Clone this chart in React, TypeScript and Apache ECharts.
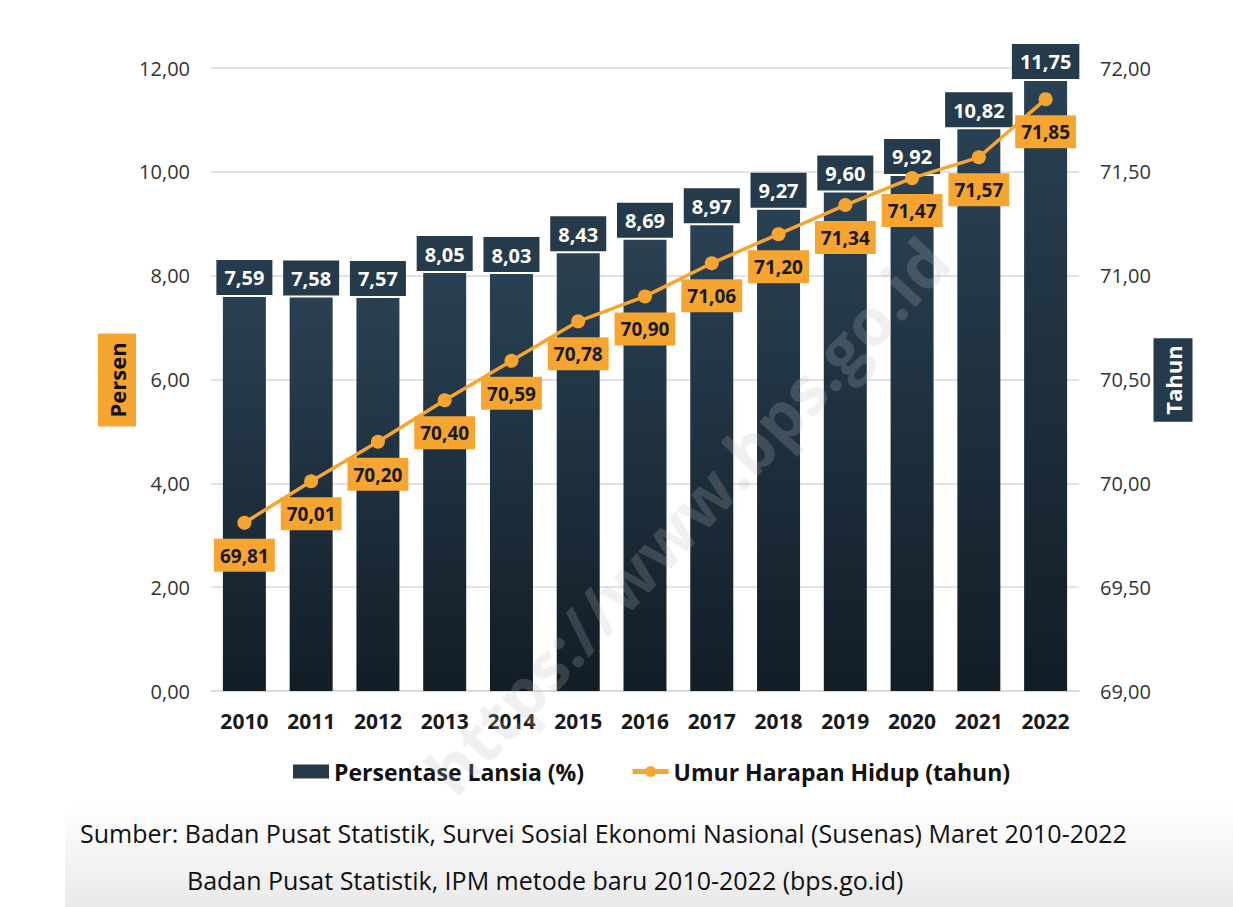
import React, { useEffect, useRef } from "react";
import * as echarts from "echarts";

const years = ["2010", "2011", "2012", "2013", "2014", "2015", "2016", "2017", "2018", "2019", "2020", "2021", "2022"];
const persentaseLansia = [7.59, 7.58, 7.57, 8.05, 8.03, 8.43, 8.69, 8.97, 9.27, 9.6, 9.92, 10.82, 11.75];
const umurHarapanHidup = [69.81, 70.01, 70.2, 70.4, 70.59, 70.78, 70.9, 71.06, 71.2, 71.34, 71.47, 71.57, 71.85];
const sourceLines = [
  "Sumber: Badan Pusat Statistik, Survei Sosial Ekonomi Nasional (Susenas) Maret 2010-2022",
  "Badan Pusat Statistik, IPM metode baru 2010-2022 (bps.go.id)",
];

const FONT = "'Open Sans', 'Noto Sans', sans-serif";
const ORANGE = "#f7a531";
const NAVY = "#253a4b";

const fmt = (v: number) => v.toFixed(2).replace(".", ",");

export default function App() {
  const ref = useRef<HTMLDivElement>(null);
  useEffect(() => {
    document.body.style.margin = "0";
    const chart = echarts.init(ref.current!, undefined, { renderer: "svg" });
    chart.setOption({
      animation: false,
      backgroundColor: "#ffffff",
      textStyle: { fontFamily: FONT },
      grid: { left: 211, top: 68, width: 868, height: 623, containLabel: false },
      legend: {
        left: 288,
        top: 755,
        itemWidth: 36,
        itemHeight: 14,
        itemGap: 46,
        textStyle: { fontFamily: FONT, fontSize: 23, fontWeight: "bold", color: "#111" },
        data: [
          { name: "Persentase Lansia (%)", icon: "rect", itemStyle: { color: NAVY } },
          { name: "Umur Harapan Hidup (tahun)", lineStyle: { width: 5, color: ORANGE }, itemStyle: { color: ORANGE } },
        ],
      },
      xAxis: {
        type: "category",
        data: years,
        axisLine: { show: true, lineStyle: { color: "#d9d9d9", width: 1.5 } },
        axisTick: { show: false },
        axisLabel: { fontFamily: FONT, fontSize: 21, fontWeight: "bold", color: "#1a1a1a", margin: 19 },
      },
      yAxis: [
        {
          type: "value",
          min: 0,
          max: 12,
          interval: 2,
          axisLine: { show: false },
          axisTick: { show: false },
          splitLine: { lineStyle: { color: "#d9d9d9", width: 1.5 } },
          axisLabel: { fontFamily: FONT, fontSize: 20, color: "#333", margin: 21, formatter: (v: number) => fmt(v) },
        },
        {
          type: "value",
          min: 69,
          max: 72,
          interval: 0.5,
          position: "right",
          axisLine: { show: false },
          axisTick: { show: false },
          splitLine: { show: false },
          axisLabel: { fontFamily: FONT, fontSize: 20, color: "#333", margin: 21, formatter: (v: number) => fmt(v) },
        },
      ],
      series: [
        {
          name: "Persentase Lansia (%)",
          type: "bar",
          data: persentaseLansia,
          barWidth: 43,
          yAxisIndex: 0,
          itemStyle: {
            color: new echarts.graphic.LinearGradient(0, 0, 0, 1, [
              { offset: 0, color: "#2a4153" },
              { offset: 1, color: "#121d26" },
            ]),
          },
          label: {
            show: true,
            position: "top",
            distance: 2,
            formatter: (p: any) => fmt(p.value),
            fontFamily: FONT,
            fontSize: 20,
            fontWeight: "bold",
            color: "#ffffff",
            backgroundColor: NAVY,
            padding: [7, 8, 6, 8],
            lineHeight: 22,
          },
        },
        {
          name: "Umur Harapan Hidup (tahun)",
          type: "line",
          data: umurHarapanHidup,
          yAxisIndex: 1,
          symbol: "circle",
          symbolSize: 14,
          lineStyle: { color: ORANGE, width: 3.5 },
          itemStyle: { color: ORANGE },
          label: {
            show: true,
            position: "bottom",
            distance: 9,
            formatter: (p: any) => fmt(p.value),
            fontFamily: FONT,
            fontSize: 19,
            fontWeight: "bold",
            color: "#1a1a1a",
            backgroundColor: ORANGE,
            padding: [6, 6, 5, 6],
            lineHeight: 22,
          },
        },
      ],
      graphic: [
        {
          type: "rect",
          left: 65,
          top: 805,
          z: -10,
          shape: { width: 1168, height: 102 },
          style: {
            fill: new echarts.graphic.LinearGradient(0, 0, 0, 1, [
              { offset: 0, color: "#ffffff" },
              { offset: 1, color: "#e9e9e9" },
            ]),
          },
        },
        {
          type: "text",
          x: 117,
          y: 380,
          rotation: Math.PI / 2,
          style: {
            text: "Persen",
            align: "center",
            verticalAlign: "middle",
            fontFamily: FONT,
            fontSize: 22,
            fontWeight: "bold",
            fill: "#111",
            backgroundColor: ORANGE,
            padding: [8, 9, 8, 9],
            lineHeight: 22,
          },
        },
        {
          type: "text",
          x: 1173,
          y: 380,
          rotation: Math.PI / 2,
          style: {
            text: "Tahun",
            align: "center",
            verticalAlign: "middle",
            fontFamily: FONT,
            fontSize: 22,
            fontWeight: "bold",
            fill: "#ffffff",
            backgroundColor: NAVY,
            padding: [8, 7, 9, 7],
            lineHeight: 22,
          },
        },
        {
          type: "text",
          x: 686,
          y: 515,
          rotation: (47 * Math.PI) / 180,
          z: 100,
          silent: true,
          style: {
            text: "https://www.bps.go.id",
            align: "center",
            verticalAlign: "middle",
            fontFamily: FONT,
            fontSize: 66,
            fontWeight: "bold",
            fill: "rgba(185,185,185,0.22)",
          },
        },
        {
          type: "text",
          x: 80,
          y: 833,
          style: {
            text: sourceLines[0],
            align: "left",
            verticalAlign: "middle",
            fontFamily: FONT,
            fontSize: 25,
            fill: "#111",
          },
        },
        {
          type: "text",
          x: 187,
          y: 880,
          style: {
            text: sourceLines[1],
            align: "left",
            verticalAlign: "middle",
            fontFamily: FONT,
            fontSize: 25,
            fill: "#111",
          },
        },
      ],
    });
    return () => chart.dispose();
  }, []);
  return <div ref={ref} style={{ width: 1233, height: 907 }} />;
}
